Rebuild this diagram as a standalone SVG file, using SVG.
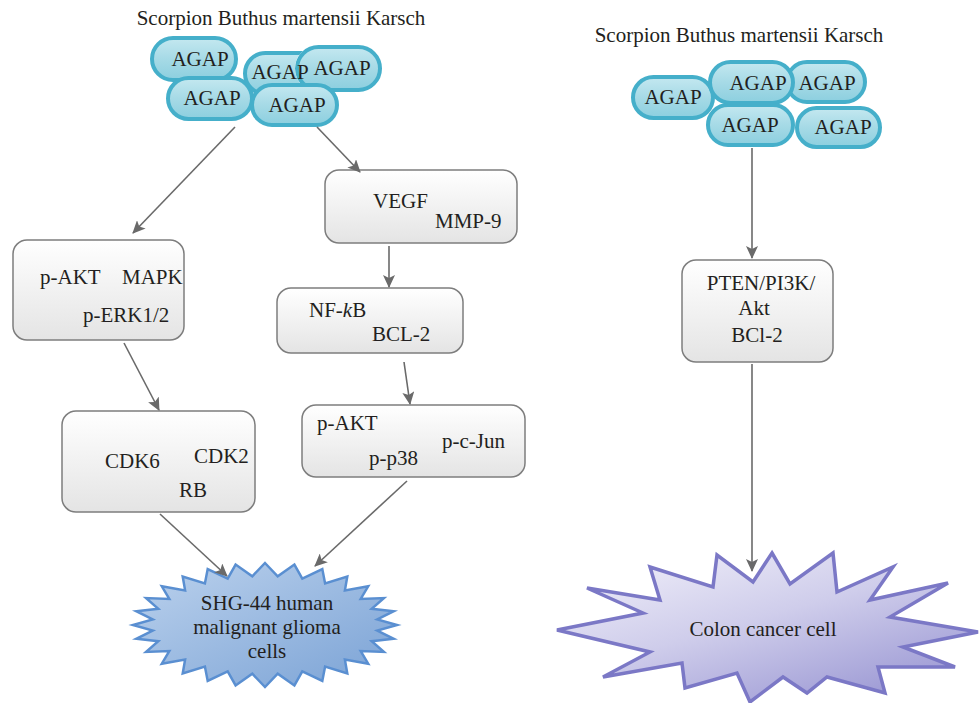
<svg xmlns="http://www.w3.org/2000/svg" width="979" height="703" viewBox="0 0 979 703">
<defs>
<style>
text{font-family:"Liberation Serif","Times New Roman",serif;font-size:21px;fill:#231f20}
.pill{fill:url(#pillG);stroke:#45afca;stroke-width:4}
.box{fill:url(#boxG);stroke:#7d7d7d;stroke-width:1.5}
.mid{text-anchor:middle}
.conn line{stroke:#6a6a6a;stroke-width:1.6;marker-end:url(#arr)}
</style>
<linearGradient id="pillG" x1="0" y1="0" x2="0" y2="1">
<stop offset="0" stop-color="#c4e8f0"/><stop offset="0.5" stop-color="#a6dae6"/><stop offset="1" stop-color="#8ccfdf"/>
</linearGradient>
<linearGradient id="boxG" x1="0" y1="0" x2="0" y2="1">
<stop offset="0" stop-color="#ffffff"/><stop offset="1" stop-color="#e4e4e4"/>
</linearGradient>
<linearGradient id="shgG" x1="0" y1="0" x2="1" y2="1">
<stop offset="0" stop-color="#bcd2ed"/><stop offset="1" stop-color="#7aa2d5"/>
</linearGradient>
<linearGradient id="colG" x1="0" y1="0" x2="0.8" y2="1">
<stop offset="0" stop-color="#f4f3fb"/><stop offset="0.5" stop-color="#cfcdeb"/><stop offset="1" stop-color="#9a97d3"/>
</linearGradient>
<marker id="arr" markerUnits="userSpaceOnUse" markerWidth="14" markerHeight="12" refX="12" refY="6" orient="auto">
<path d="M0,0 L13,6 L0,12 L3,6 z" fill="#6a6a6a"/>
</marker>
<mask id="m3" maskUnits="userSpaceOnUse" x="0" y="0" width="979" height="703">
<rect x="0" y="0" width="979" height="703" fill="#fff"/>
<rect x="297" y="47" width="83" height="43" rx="21.5" fill="#000" stroke="#000" stroke-width="4"/>
</mask>
</defs>
<rect width="979" height="703" fill="#fff"/>

<g id="title-left"><text x="281" y="25" class="mid">Scorpion Buthus martensii Karsch</text></g>
<g id="title-right"><text x="739" y="42" class="mid">Scorpion Buthus martensii Karsch</text></g>

<g id="agap-l1"><rect class="pill" x="152" y="38" width="84" height="42" rx="21"/><text x="200" y="66" class="mid">AGAP</text></g>
<g id="agap-l2"><rect class="pill" x="168" y="78" width="84" height="41" rx="20.5"/><text x="212" y="105" class="mid">AGAP</text></g>
<g id="agap-l4"><rect class="pill" x="297" y="47" width="83" height="43" rx="21.5"/><text x="342" y="75" class="mid">AGAP</text></g>
<g id="agap-l3"><rect class="pill" x="245" y="53" width="80" height="41" rx="20.5" mask="url(#m3)"/><text x="280" y="79" class="mid">AGAP</text></g>
<g id="agap-l5"><rect class="pill" x="252" y="85" width="85" height="40" rx="20"/><text x="297" y="112" class="mid">AGAP</text></g>

<g id="agap-r1"><rect class="pill" x="633" y="77" width="80" height="41" rx="20.5"/><text x="673" y="104" class="mid">AGAP</text></g>
<g id="agap-r3"><rect class="pill" x="787" y="62" width="78" height="40" rx="20"/><text x="827" y="90" class="mid">AGAP</text></g>
<g id="agap-r2"><rect class="pill" x="710" y="62" width="83" height="41" rx="20.5"/><text x="758" y="90" class="mid">AGAP</text></g>
<g id="agap-r4"><rect class="pill" x="708" y="105" width="85" height="40" rx="20"/><text x="750" y="132" class="mid">AGAP</text></g>
<g id="agap-r5"><rect class="pill" x="797" y="108" width="83" height="39" rx="19.5"/><text x="843" y="134" class="mid">AGAP</text></g>

<g id="box-akt-mapk"><rect class="box" x="13" y="240" width="171" height="100" rx="14"/>
<text x="40" y="284">p-AKT</text><text x="122" y="284">MAPK</text><text x="83" y="322">p-ERK1/2</text></g>

<g id="box-vegf"><rect class="box" x="325" y="170" width="192" height="73" rx="14"/>
<text x="373" y="208">VEGF</text><text x="435" y="228">MMP-9</text></g>

<g id="box-nfkb"><rect class="box" x="277" y="288" width="186" height="65" rx="14"/>
<text x="309" y="317">NF-<tspan font-style="italic">k</tspan>B</text><text x="372" y="341">BCL-2</text></g>

<g id="box-cdk"><rect class="box" x="62" y="411" width="193" height="101" rx="14"/>
<text x="105" y="468">CDK6</text><text x="194" y="463">CDK2</text><text x="179" y="497">RB</text></g>

<g id="box-pakt"><rect class="box" x="302" y="405" width="223" height="72" rx="14"/>
<text x="317" y="430">p-AKT</text><text x="442" y="448">p-c-Jun</text><text x="369" y="465">p-p38</text></g>

<g id="box-pten"><rect class="box" x="682" y="260" width="151" height="102" rx="14"/>
<text x="761" y="290" class="mid">PTEN/PI3K/</text><text x="754" y="315" class="mid">Akt</text><text x="757" y="342" class="mid">BCl-2</text></g>

<g id="cell-shg">
<polygon fill="url(#shgG)" stroke="#5a8fd1" stroke-width="2.5" stroke-linejoin="miter" points="265,563 277.7,576.3 294.4,564.6 302.3,578.7 322.3,569.1 325.1,583.5 347.3,576.5 344.9,590.4 368.2,586.3 360.7,598.9 383.9,598.1 371.7,608.8 393.7,611.2 377.3,619.5 397,625 377.3,630.5 393.7,638.8 371.7,641.2 383.9,651.9 360.7,651.1 368.2,663.7 344.9,659.6 347.3,673.5 325.1,666.5 322.3,680.9 302.3,671.3 294.4,685.4 277.7,673.7 265,687 252.3,673.7 235.6,685.4 227.7,671.3 207.7,680.9 204.9,666.5 182.7,673.5 185.1,659.6 161.8,663.7 169.3,651.1 146.1,651.9 158.3,641.2 136.3,638.8 152.7,630.5 133,625 152.7,619.5 136.3,611.2 158.3,608.8 146.1,598.1 169.3,598.9 161.8,586.3 185.1,590.4 182.7,576.5 204.9,583.5 207.7,569.1 227.7,578.7 235.6,564.6 252.3,576.3"/>
<text x="267" y="610" class="mid">SHG-44 human</text>
<text x="267" y="634" class="mid">malignant glioma</text>
<text x="267" y="658" class="mid">cells</text>
</g>

<g id="cell-colon">
<polygon fill="url(#colG)" stroke="#7b78c6" stroke-width="3.5" stroke-linejoin="miter" points="772,553 790,584 833,553 837,592 893,567 870,600 948,583 890,617 978,632 903,647 955,667 878,667 885,693 827,677 807,693 783,677 750,702 737,673 685,688 682,663 603,677 650,652 557,630 643,613 587,588 660,600 650,567 713,587 717,555 753,582"/>
<text x="763" y="636" class="mid">Colon cancer cell</text>
</g>

<g id="connectors" class="conn">
<line x1="235" y1="127" x2="133" y2="233"/>
<line x1="317" y1="127" x2="360" y2="172"/>
<line x1="389" y1="246" x2="389" y2="287"/>
<line x1="124" y1="343" x2="159" y2="410"/>
<line x1="404" y1="362" x2="410" y2="404"/>
<line x1="160" y1="514" x2="227" y2="576"/>
<line x1="407" y1="481" x2="315" y2="566"/>
<line x1="752" y1="148" x2="752" y2="258"/>
<line x1="752" y1="364" x2="752" y2="571"/>
</g>
</svg>
